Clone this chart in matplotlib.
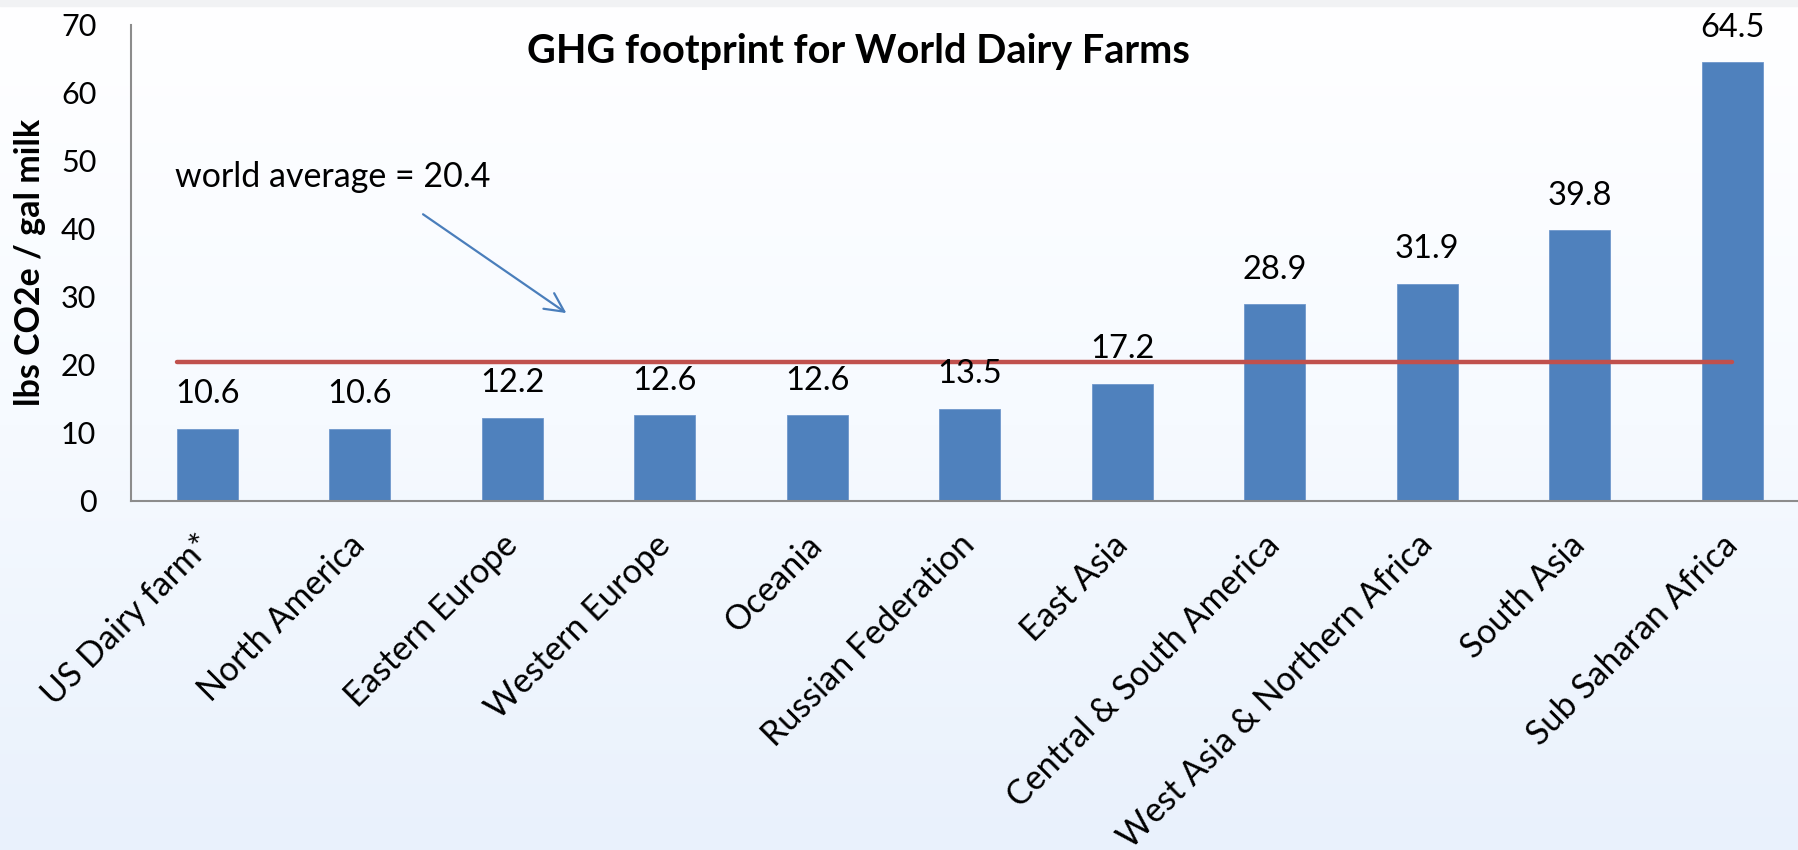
import numpy as np
import matplotlib.pyplot as plt
from matplotlib.colors import LinearSegmentedColormap

# ─── Data ────────────────────────────────────────────────────────────────────
regions = [
    "US Dairy farm*", "North America", "Eastern Europe", "Western Europe",
    "Oceania", "Russian Federation", "East Asia", "Central & South America",
    "West Asia & Northern Africa", "South Asia", "Sub Saharan Africa",
]
footprint = [10.6, 10.6, 12.2, 12.6, 12.6, 13.5, 17.2, 28.9, 31.9, 39.8, 64.5]
world_avg = 20.4
y_ticks = [0, 10, 20, 30, 40, 50, 60, 70]

BAR_COLOR = "#4f81bd"
AVG_COLOR = "#c0504d"
ARROW_COLOR = "#4a7ebb"
FONT = "Lato"

plt.rcParams["font.family"] = [FONT, "DejaVu Sans"]

W, H = 1798, 850
fig = plt.figure(figsize=(W / 100, H / 100), dpi=100)

# ─── Background: white fading to pale blue, thin grey strip on top ──────────
bg = fig.add_axes([0, 0, 1, 1], zorder=-10)
grad = np.linspace(0, 1, 256).reshape(-1, 1)
cmap = LinearSegmentedColormap.from_list("bg", ["#ffffff", "#f6faff", "#e9f1fc"])
bg.imshow(grad, aspect="auto", cmap=cmap, extent=[0, 1, 0, 1], origin="upper")
bg.axhspan(1 - 6 / H, 1, color="#f1f2f4")
bg.set_xlim(0, 1)
bg.set_ylim(0, 1)
bg.axis("off")

# ─── Bar chart ───────────────────────────────────────────────────────────────
left, bottom = 131 / W, 349 / H
ax = fig.add_axes([left, bottom, 1677.5 / W, 476 / H])
ax.patch.set_alpha(0)

x = np.arange(len(regions))
ax.bar(x, footprint, width=0.4, color=BAR_COLOR, edgecolor="#6f97cc",
       linewidth=0.6, zorder=2)

for xi, val in zip(x, footprint):
    ax.annotate(f"{val}", (xi, val), xytext=(0, 25), textcoords="offset points",
                ha="center", va="center", fontsize=23.5, color="black", zorder=4)

# world average line and callout
ax.hlines(world_avg, -0.2, 10.0, color=AVG_COLOR, lw=3.2, capstyle="round",
          zorder=3)
ax.text(-0.21, 47.6, f"world average = {world_avg}", fontsize=24.5,
        ha="left", va="center")
ax.annotate("", xy=(2.37, 27.4), xytext=(1.40, 42.4),
            arrowprops=dict(arrowstyle="->", color=ARROW_COLOR, lw=1.6,
                            mutation_scale=34))

ax.set_xlim(-0.5, len(regions) - 0.5)
ax.set_ylim(0, 70)
ax.set_yticks(y_ticks)
ax.set_yticklabels([str(t) for t in y_ticks], fontsize=22)
ax.set_xticks(x)
ax.set_xticklabels(regions, fontsize=24.5, rotation=45, ha="right",
                   va="center", rotation_mode="anchor")
ax.tick_params(axis="both", length=0)
ax.tick_params(axis="y", pad=25)
ax.tick_params(axis="x", pad=28)

for side in ("top", "right"):
    ax.spines[side].set_visible(False)
for side in ("left", "bottom"):
    ax.spines[side].set_color("#8c8c8c")
    ax.spines[side].set_linewidth(1.5)

fig.text(858 / W, 1 - 52 / H, "GHG footprint for World Dairy Farms",
         fontsize=28.5, fontweight="bold", ha="center", va="center")
fig.text(30 / W, 1 - 262 / H, "lbs CO2e / gal milk", fontsize=24.5,
         fontweight="bold", rotation=90, ha="center", va="center")

fig.savefig("out.png", dpi=100)
